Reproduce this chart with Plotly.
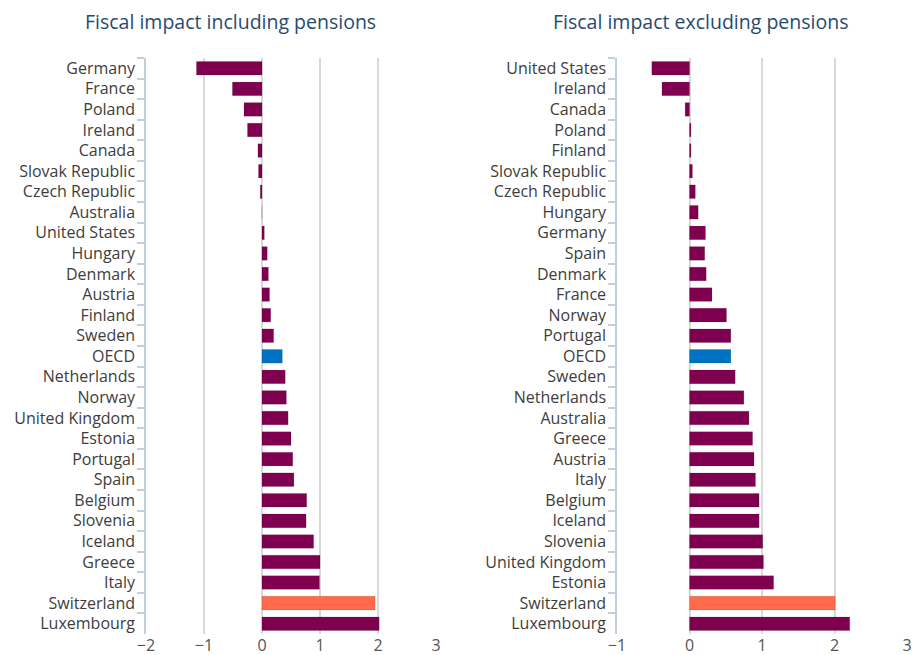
import plotly.graph_objects as go

# Fiscal impact including pensions (percentage points of GDP)
incl_countries = [
    "Germany", "France", "Poland", "Ireland", "Canada", "Slovak Republic",
    "Czech Republic", "Australia", "United States", "Hungary", "Denmark",
    "Austria", "Finland", "Sweden", "OECD", "Netherlands", "Norway",
    "United Kingdom", "Estonia", "Portugal", "Spain", "Belgium", "Slovenia",
    "Iceland", "Greece", "Italy", "Switzerland", "Luxembourg",
]
incl_values = [
    -1.13, -0.51, -0.31, -0.25, -0.07, -0.06,
    -0.03, 0.0, 0.04, 0.09, 0.11,
    0.13, 0.15, 0.20, 0.35, 0.40, 0.42,
    0.45, 0.50, 0.53, 0.55, 0.77, 0.76,
    0.89, 1.00, 0.99, 1.95, 2.02,
]

# Fiscal impact excluding pensions (percentage points of GDP)
excl_countries = [
    "United States", "Ireland", "Canada", "Poland", "Finland",
    "Slovak Republic", "Czech Republic", "Hungary", "Germany", "Spain",
    "Denmark", "France", "Norway", "Portugal", "OECD", "Sweden",
    "Netherlands", "Australia", "Greece", "Austria", "Italy", "Belgium",
    "Iceland", "Slovenia", "United Kingdom", "Estonia", "Switzerland",
    "Luxembourg",
]
excl_values = [
    -0.52, -0.38, -0.06, 0.02, 0.02,
    0.04, 0.08, 0.12, 0.22, 0.21,
    0.23, 0.31, 0.51, 0.57, 0.57, 0.63,
    0.75, 0.82, 0.87, 0.89, 0.91, 0.96,
    0.96, 1.01, 1.02, 1.16, 2.01,
    2.21,
]

x_ticks = [-2, -1, 0, 1, 2, 3]

MAROON = "#800050"
BLUE = "#0072C2"
ORANGE = "#FF6A48"


def bar_colors(countries):
    cols = []
    for c in countries:
        if c == "OECD":
            cols.append(BLUE)
        elif c == "Switzerland":
            cols.append(ORANGE)
        else:
            cols.append(MAROON)
    return cols


fig = go.Figure()

fig.add_trace(go.Bar(
    x=incl_values, y=incl_countries, orientation="h",
    marker=dict(color=bar_colors(incl_countries),
                line=dict(color="rgba(0,0,0,0.12)", width=1)),
    width=0.66, xaxis="x", yaxis="y", showlegend=False,
))
fig.add_trace(go.Bar(
    x=excl_values, y=excl_countries, orientation="h",
    marker=dict(color=bar_colors(excl_countries),
                line=dict(color="rgba(0,0,0,0.12)", width=1)),
    width=0.66, xaxis="x2", yaxis="y2", showlegend=False,
))

grid = "#d9d9d9"
axis_line = "#C0D0E0"
label_font = dict(family="Open Sans, sans-serif", size=16, color="#3d3d3d")
tick_font = dict(family="Open Sans, sans-serif", size=16, color="#555555")
title_font = dict(family="Open Sans, sans-serif", size=19.5, color="#274b6d")

xcommon = dict(
    tickmode="array", tickvals=x_ticks, showgrid=True, gridcolor=grid,
    gridwidth=1.5, zeroline=False, showline=False, ticks="",
    tickfont=tick_font, fixedrange=True, automargin=False,
)
ycommon = dict(
    type="category", autorange="reversed", showgrid=False, zeroline=False,
    showline=True, linecolor=axis_line, linewidth=1.5,
    ticks="outside", tickson="boundaries", ticklen=7, tickcolor=axis_line,
    tickwidth=1.5, tickfont=label_font, ticklabelstandoff=6, automargin=False,
)

ydom = [(655 - 634) / 655, (655 - 58) / 655]

fig.update_layout(
    width=912, height=655,
    margin=dict(l=0, r=0, t=0, b=0),
    plot_bgcolor="white", paper_bgcolor="white",
    xaxis=dict(domain=[146 / 912, 436 / 912], range=[-2, 3], anchor="y", **xcommon),
    yaxis=dict(domain=ydom, anchor="x", **ycommon),
    xaxis2=dict(domain=[617 / 912, 907 / 912], range=[-1, 3], anchor="y2", **xcommon),
    yaxis2=dict(domain=ydom, anchor="x2", **ycommon),
    annotations=[
        dict(text="Fiscal impact including pensions", x=230 / 912, y=(655 - 22) / 655,
             xref="paper", yref="paper", showarrow=False, xanchor="center", yanchor="middle",
             font=title_font),
        dict(text="Fiscal impact excluding pensions", x=700 / 912, y=(655 - 22) / 655,
             xref="paper", yref="paper", showarrow=False, xanchor="center", yanchor="middle",
             font=title_font),
    ],
)

fig.write_html("out.html")
